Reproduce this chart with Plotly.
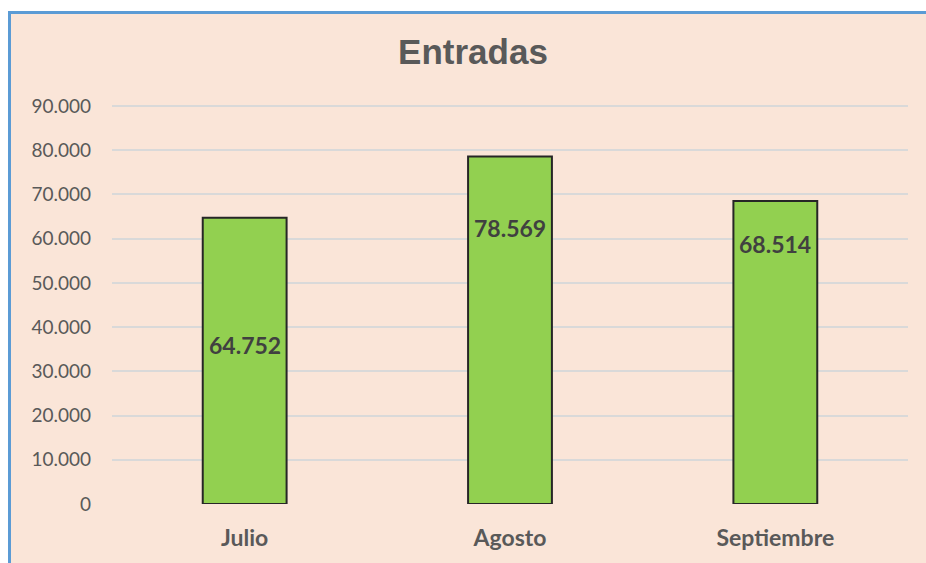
import plotly.graph_objects as go

categories = ["Julio", "Agosto", "Septiembre"]
values = [64752, 78569, 68514]
# vertical position of each value label, in axis units (as placed in the original)
label_y = [36000, 62400, 58800]
y_ticks = [0, 10000, 20000, 30000, 40000, 50000, 60000, 70000, 80000, 90000]

FONT = "Lato, 'Open Sans', sans-serif"
TITLE_FONT = "'Liberation Sans', Arial, sans-serif"
GRAY = "#595959"
PEACH = "#FAE5D8"

def fmt(v):
    return f"{v:,}".replace(",", ".")

fig = go.Figure()
fig.add_trace(go.Bar(
    x=categories, y=values,
    marker=dict(color="#92D050", line=dict(color="#262626", width=2)),
    width=0.316,
    hoverinfo="x+y",
))

for c, v, ly in zip(categories, values, label_y):
    fig.add_annotation(x=c, y=ly, text=f"<b>{fmt(v)}</b>", showarrow=False,
                       font=dict(family=FONT, size=23, color="#404040"))

PLOT_TOP, PLOT_BOTTOM = 103, 504
plot_h = PLOT_BOTTOM - PLOT_TOP
y_max = 90000 * plot_h / (PLOT_BOTTOM - 106)

# chart-area background with blue border (top & left visible)
fig.add_shape(type="rect", xref="paper", yref="paper",
              x0=(9.5 - 112) / 796, x1=1.3, y0=-0.5, y1=(PLOT_BOTTOM - 12.5) / plot_h,
              fillcolor=PEACH, line=dict(color="#5B9BD5", width=3), layer="below")

fig.update_layout(
    width=926, height=563,
    margin=dict(l=112, r=18, t=PLOT_TOP, b=563 - PLOT_BOTTOM),
    paper_bgcolor="white",
    plot_bgcolor="rgba(0,0,0,0)",
    separators=",.",
    showlegend=False,
    title=dict(text="<b>Entradas</b>", x=473 / 926, xanchor="center",
               y=1 - 52 / 563, yanchor="middle",
               font=dict(family=TITLE_FONT, size=35, color=GRAY)),
    xaxis=dict(showgrid=False, showline=False, zeroline=False, ticks="",
               tickfont=dict(family=FONT, size=23, color=GRAY),
               ticklabelstandoff=18,
               tickprefix="<b>", ticksuffix="</b>"),
    yaxis=dict(range=[0, y_max], tickvals=y_ticks,
               ticktext=[fmt(t) for t in y_ticks],
               showgrid=True, gridcolor="#D9D9D9", gridwidth=2,
               zeroline=False, showline=False, ticks="",
               tickfont=dict(family=FONT, size=19, color=GRAY),
               ticklabelstandoff=20),
)

fig.write_html(
    "out.html",
    config={"displayModeBar": False},
    post_script="document.body.style.margin='0';document.body.style.overflow='hidden';",
)
